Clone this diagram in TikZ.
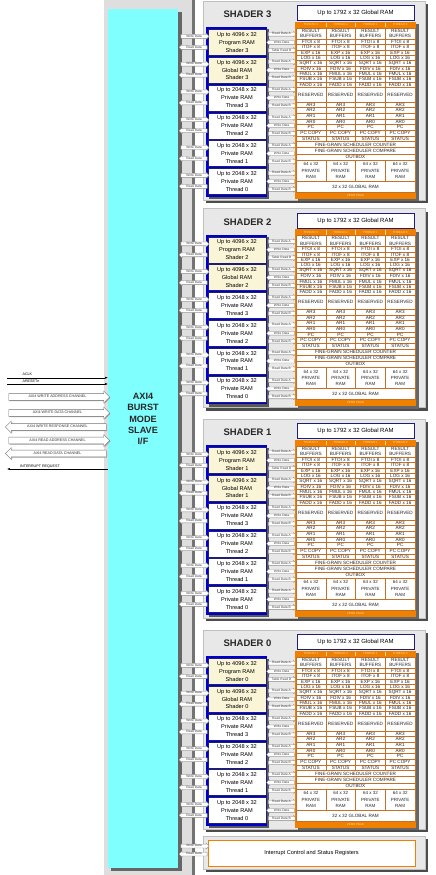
\documentclass[tikz,border=0pt]{standalone}
\usepackage{fontspec}
\setmainfont{Liberation Sans}
\usetikzlibrary{arrows.meta,shapes.arrows,shadows}

\definecolor{slavecyan}{RGB}{128,255,255}
\definecolor{ramblue}{RGB}{0,0,205}
\definecolor{rambeige}{RGB}{250,245,214}
\definecolor{taborange}{RGB}{240,128,0}
\definecolor{tabline}{RGB}{196,112,40}
\definecolor{tabpale}{RGB}{255,216,150}
\definecolor{panelgray}{RGB}{232,232,232}
\definecolor{stripgray}{RGB}{222,222,222}
\definecolor{globnavy}{RGB}{30,30,120}

\newcommand{\ramfont}{\fontsize{8}{11.2}\selectfont}
\newcommand{\cellfont}{\fontsize{6.6}{7.4}\selectfont}
\newcommand{\pramfont}{\fontsize{6.4}{8.8}\selectfont}
\newcommand{\bandfont}{\fontsize{4.2}{5}\selectfont}
\newcommand{\sigfont}{\fontsize{4.6}{5}\selectfont}
\newcommand{\chanfont}{\fontsize{5.2}{6}\selectfont}

\tikzset{
  panel/.style={fill=panelgray, draw=black!25, line width=0.3pt},
  panelshadow/.style={fill=black!70},
  title/.style={font=\fontsize{13.5}{16}\selectfont\bfseries, text=black!85},
  ramcell/.style={draw=globnavy, line width=0.4pt, minimum width=2.87cm, minimum height=1.3cm,
    inner sep=0pt, align=center, font=\ramfont},
  tabcell/.style={draw=tabline, fill=white, line width=0.35pt, minimum width=1.4875cm,
    inner sep=0pt, align=center, font=\cellfont, text=black!85},
  bandtext/.style={font=\bandfont, text=tabpale, inner sep=0pt},
  globbox/.style={draw=globnavy, line width=0.8pt, fill=white, minimum width=5.85cm,
    minimum height=0.75cm, inner sep=0pt, font=\fontsize{8.5}{10}\selectfont},
  sig/.style={single arrow, draw=black!50, fill=white, line width=0.3pt, minimum height=1.4cm,
    single arrow head extend=0.05cm, inner xsep=0.4pt, inner ysep=0.5pt,
    text height=3.2pt, text depth=0.8pt, font=\sigfont, text=black!75,
    drop shadow={shadow xshift=0.5pt, shadow yshift=-0.5pt, fill=black!35, opacity=1}},
  sigright/.style={sig},
  sigleft/.style={sig, shape border rotate=180},
  chan/.style={single arrow, draw=black!55, fill=white, line width=0.4pt, minimum height=5.05cm,
    single arrow head extend=0.13cm, inner xsep=1pt, inner ysep=2.2pt,
    text height=3.8pt, text depth=1pt, font=\chanfont, text=black!80,
    drop shadow={shadow xshift=1.2pt, shadow yshift=-1.2pt, fill=black!35, opacity=1}},
  chanright/.style={chan},
  chanleft/.style={chan, shape border rotate=180},
  sigline/.style={line width=0.5pt, -{Latex[length=1.4mm,width=1mm]}},
  smalllabel/.style={font=\chanfont, inner sep=0pt, anchor=west},
}

\begin{document}
\begin{tikzpicture}[x=0.05cm, y=-0.05cm]
  \useasboundingbox (0,0) rectangle (435,875);

  % bus strip and slave interface
  \fill[stripgray] (104,0) rectangle (192,875);
  \fill[black!55] (192,0) rectangle (195,875);
  \fill[black!60] (111,12) rectangle (182,871);
  \node[fill=slavecyan, minimum width=3.5cm, minimum height=42.95cm, inner sep=0pt] (slave) at (143,438.5) {};
  \node[font=\fontsize{13}{15.9}\selectfont\bfseries, align=center, text=black!85] (slave-txt) at (143,419) {AXI4\\BURST\\MODE\\SLAVE\\I/F};

  % clock, reset, AXI4 channels, interrupt
  \coordinate (aclk-in) at (7,377.7);
  \coordinate (arst-in) at (7,384);
  \coordinate (irq-out) at (7,469);
  \draw[sigline] (aclk-in) -- (aclk-in -| slave.west);
  \draw[sigline] (arst-in) -- (arst-in -| slave.west);
  \draw[sigline] (irq-out -| slave.west) -- (irq-out);
  \node[smalllabel] (aclk-lbl) at (22.5,374.6) {ACLK};
  \node[smalllabel] (arst-lbl) at (22.5,380.9) {ARESETn};
  \node[smalllabel] (irq-lbl) at (20,466.3) {INTERRUPT REQUEST};
  \node[chanright] (waddr) at (57.5,397) {AXI4 WRITE ADDRESS CHANNEL};
  \node[chanright] (wdata) at (57.5,413) {AXI4 WRITE DATA CHANNEL};
  \node[chanleft] (wresp) at (57.5,427) {AXI4 WRITE RESPONSE CHANNEL};
  \node[chanright] (raddr) at (57.5,440.5) {AXI4 READ ADDRESS CHANNEL};
  \node[chanleft] (rdata) at (57.5,453.5) {AXI4 READ DATA CHANNEL};

  % the four shaders
  \foreach \s/\off in {3/0,2/207.5,1/418,0/629}{
    \begin{scope}[shift={(0,\off)}]
      \fill[panelshadow] (206,4) rectangle (428,203);
      \filldraw[panel] (203,1) rectangle (425,200);
      \node[title] (title-\s) at (247.5,14.7) {SHADER \s};
      % memories of the shader
      \fill[black!65] (208.5,29.5) rectangle (269,199);
      \fill[ramblue] (206,27.3) rectangle (266.7,196.7);
      \foreach \k/\sz/\kind/\who/\clr/\rbtxt in {0/4096/Program/Shader \s/rambeige/Table Read B,
          1/4096/Global/Shader \s/rambeige/Read Data B, 2/2048/Private/Thread 3/white/Read Data B,
          3/2048/Private/Thread 2/white/Read Data B, 4/2048/Private/Thread 1/white/Read Data B,
          5/2048/Private/Thread 0/white/Read Data B}{
        \node[ramcell, fill=\clr] (ram-\s-\k) at (237,{42.3+27.8*\k}) {Up to \sz{} x 32\\\kind{} RAM\\\who};
        \node[sigright] (wd-\s-\k) at (194,{36.3+27.8*\k}) {Write Data};
        \node[sigleft] (rd-\s-\k) at (194,{47.3+27.8*\k}) {Read Data};
        \node[sigright] (ra-\s-\k) at (281.5,{34.1+27.8*\k}) {Read Data A};
        \node[sigleft] (wb-\s-\k) at (281.5,{42.3+27.8*\k}) {Write Data};
        \node[sigright] (rb-\s-\k) at (281.5,{50.3+27.8*\k}) {\rbtxt};
      }
      % register file table
      \node[globbox, drop shadow={shadow xshift=1pt, shadow yshift=-1pt, fill=black!45, opacity=1}] (glob-\s) at (355.5,13.2) {Up to 1792 x 32 Global RAM};
      \fill[black!60] (298,24) rectangle (418.5,201);
      \fill[taborange] (294.8,21.6) rectangle (416.2,198.6);
      \foreach \c/\t in {0/3,1/2,2/1,3/0}{
        \pgfmathsetmacro{\cx}{296+29.75*(\c+0.5)}
        \node[bandtext] (th-\s-\c) at (\cx,24.9) {THREAD \t};
        \node[tabcell, minimum height=0.565cm] (buf-\s-\c) at (\cx,33.35) {RESULT\\BUFFERS};
        \foreach \fn [count=\i from 0] in {FTOI x 8,ITOF x 8,EXP x 16,LOG x 16,SQRT x 16,FDIV x 16,FMUL x 16,FSUB x 16,FADD x 16}
          \node[tabcell, minimum height=0.2685cm] (fn-\s-\c-\i) at (\cx,{39+5.37*(\i+0.5)}) {\fn};
        \node[tabcell, minimum height=0.72cm] (res-\s-\c) at (\cx,94.5) {RESERVED};
        \foreach \rg [count=\i from 0] in {AR3,AR2,AR1,AR0,PC,PC COPY,STATUS}
          \node[tabcell, minimum height=0.283cm] (reg-\s-\c-\i) at (\cx,{101.7+5.66*(\i+0.5)}) {\rg};
        \node[tabcell, minimum height=1.05cm, font=\pramfont] (pram-\s-\c) at (\cx,170.5) {64 x 32\\PRIVATE\\RAM};
      }
      \foreach \c in {1,2,3}
        \draw[tabpale, line width=0.3pt] ({296+29.75*\c},22.6) -- ({296+29.75*\c},27.2);
      \foreach \fw [count=\i from 0] in {FINE-GRAIN SCHEDULER COUNTER,FINE-GRAIN SCHEDULER COMPARE,OUTBOX}
        \node[tabcell, minimum width=5.95cm, minimum height=0.3115cm] (fg-\s-\i) at (355.5,{141.3+6.23*(\i+0.5)}) {\fw};
      \node[tabcell, minimum width=5.95cm, minimum height=0.55cm] (g32-\s) at (355.5,186.5) {32 x 32 GLOBAL RAM};
      \node[bandtext] (zp-\s) at (355.5,195.3) {ZERO PAGE};
    \end{scope}
  }

  % interrupt registers
  \fill[panelshadow] (206,839) rectangle (428,872);
  \filldraw[panel] (203,836) rectangle (425,869);
  \node[draw=taborange, line width=1.2pt, fill=white, minimum width=10.35cm, minimum height=1.3cm,
    font=\fontsize{8}{10}\selectfont, drop shadow={shadow xshift=1.2pt, shadow yshift=-1.2pt, fill=black!55, opacity=1}]
    (intc) at (311.5,853) {Interrupt Control and Status Registers};
  \node[sigright] (int-wd) at (194,846) {Write Data};
  \node[sigleft] (int-rd) at (194,854) {Read Data};
\end{tikzpicture}
\end{document}
